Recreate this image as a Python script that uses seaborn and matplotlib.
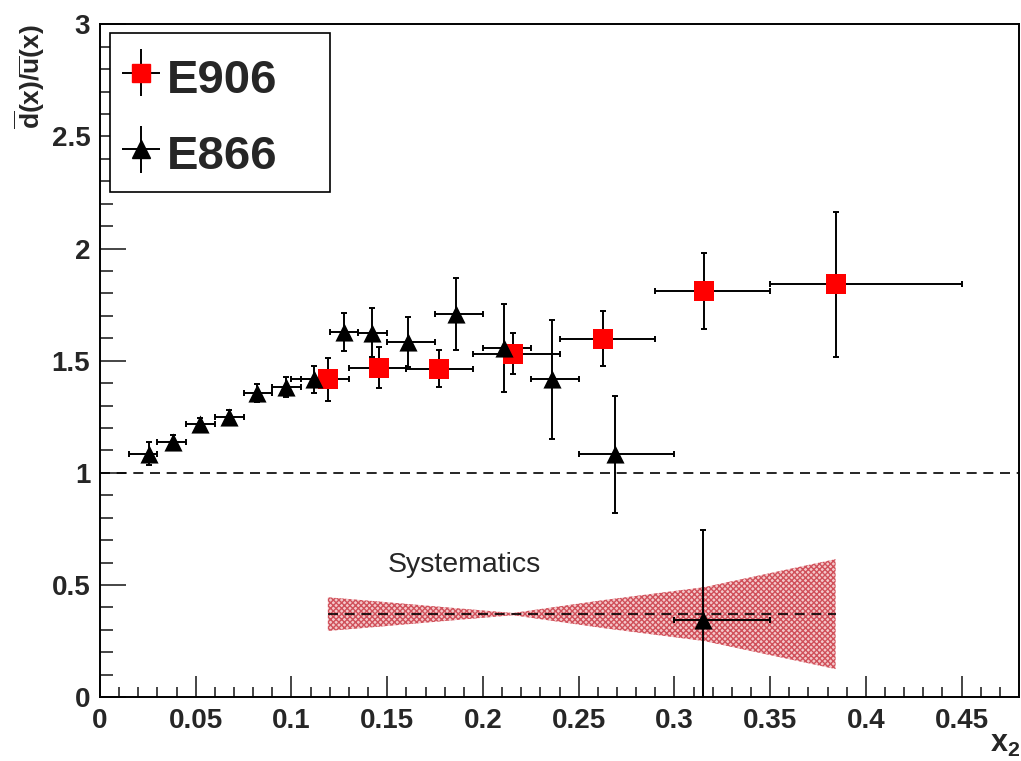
import matplotlib
matplotlib.use("Agg")
import matplotlib.pyplot as plt
from matplotlib.container import ErrorbarContainer
from matplotlib.legend_handler import HandlerErrorbar
from matplotlib.lines import Line2D
from matplotlib.patches import Rectangle
import numpy as np
import pandas as pd
import seaborn as sns


# E866 points (x2, ratio, x-bin edges, y error)
e866_x = [0.0257, 0.0382, 0.052, 0.0673, 0.0821, 0.0972, 0.112, 0.1272, 0.142,
          0.161, 0.186, 0.2108, 0.236, 0.269, 0.3147]
e866_y = [1.086, 1.138, 1.216, 1.249, 1.354, 1.383, 1.417, 1.628, 1.625,
          1.584, 1.708, 1.557, 1.417, 1.082, 0.345]
e866_lo = [0.015, 0.030, 0.045, 0.060, 0.075, 0.090, 0.105, 0.120, 0.135,
           0.150, 0.175, 0.200, 0.225, 0.250, 0.300]
e866_hi = [0.030, 0.045, 0.060, 0.075, 0.090, 0.105, 0.120, 0.135, 0.150,
           0.175, 0.200, 0.225, 0.250, 0.300, 0.350]
e866_err = [0.05, 0.03, 0.03, 0.03, 0.04, 0.045, 0.06, 0.085, 0.11,
            0.11, 0.16, 0.195, 0.265, 0.26, 0.40]

# E906 points
e906_x = [0.119, 0.1459, 0.177, 0.2157, 0.2625, 0.3155, 0.3842]
e906_y = [1.417, 1.469, 1.465, 1.532, 1.599, 1.811, 1.84]
e906_lo = [0.100, 0.130, 0.160, 0.195, 0.240, 0.290, 0.350]
e906_hi = [0.130, 0.160, 0.195, 0.240, 0.290, 0.350, 0.450]
e906_err = [0.095, 0.09, 0.083, 0.09, 0.123, 0.168, 0.325]

# systematic band (half widths at the E906 x positions)
sys_center = 0.37
sys_half = [0.075, 0.056, 0.033, 0.005, 0.062, 0.12, 0.245]


def draw(ax, xs, ys, lo, hi, err, color, marker, size):
    xs = np.array(xs)
    xerr = [xs - np.array(lo), np.array(hi) - xs]
    ax.errorbar(xs, ys, xerr=xerr, yerr=err, fmt="none", ecolor="black",
                elinewidth=1.4, capsize=2.2, capthick=1.4, zorder=3)
    df = pd.DataFrame({"x": xs, "y": ys})
    sns.scatterplot(data=df, x="x", y="y", ax=ax, color=color, marker=marker,
                    s=size, linewidth=0, zorder=4, legend=False)


sns.set_theme(style="ticks")
plt.rcParams["font.family"] = ["Liberation Sans", "DejaVu Sans"]
plt.rcParams["mathtext.fontset"] = "custom"
plt.rcParams["mathtext.bf"] = "Liberation Sans:bold"
plt.rcParams["mathtext.rm"] = "Liberation Sans:bold"
plt.rcParams["hatch.linewidth"] = 1.0

fig = plt.figure(figsize=(10.21, 7.61), dpi=100)
ax = fig.add_axes([0.098, 0.084, 0.900, 0.884])

sx = np.array(e906_x)
sh = np.array(sys_half)
ax.fill_between(sx, sys_center - sh, sys_center + sh, facecolor="#f4c8ca",
                edgecolor="#d0505a", hatch="xxxxxx", linewidth=0, zorder=1)
ax.plot([sx[0], sx[-1]], [sys_center, sys_center], color="black", lw=1.2,
        dashes=(6, 4), zorder=2)
ax.axhline(1.0, color="black", lw=1.2, dashes=(6, 4), zorder=2)

draw(ax, e906_x, e906_y, e906_lo, e906_hi, e906_err, "#ff0000", "s", 200)
draw(ax, e866_x, e866_y, e866_lo, e866_hi, e866_err, "black", "^", 170)

ax.text(0.15, 0.59, "Systematics", fontsize=20.5, va="center", ha="left")

ax.set_xlim(0, 0.48)
ax.set_ylim(0, 3)
ax.set_xticks(np.arange(0, 0.46, 0.05))
ax.set_xticklabels(["0", "0.05", "0.1", "0.15", "0.2", "0.25", "0.3", "0.35",
                    "0.4", "0.45"])
ax.set_xticks(np.arange(0, 0.48, 0.01), minor=True)
ax.set_yticks([0, 0.5, 1, 1.5, 2, 2.5, 3])
ax.set_yticklabels(["0", "0.5", "1", "1.5", "2", "2.5", "3"])
ax.set_yticks(np.arange(0, 3.01, 0.1), minor=True)
ax.tick_params(axis="x", which="major", direction="in", length=15, width=1.2,
               pad=8, labelsize=20)
ax.tick_params(axis="x", which="minor", direction="in", length=7.5, width=1.2)
ax.tick_params(axis="y", which="major", direction="in", length=19, width=1.2,
               pad=7, labelsize=20)
ax.tick_params(axis="y", which="minor", direction="in", length=9.5, width=1.2)
for lab in ax.get_xticklabels() + ax.get_yticklabels():
    lab.set_fontweight("bold")
for sp in ax.spines.values():
    sp.set_linewidth(1.4)
    sp.set_color("black")

ax.set_xlabel("")
fig.text(0.999, 0.003, r"$\mathbf{x_2}$", fontsize=22, ha="right", va="bottom")
ax.set_ylabel(r"$\overline{\mathbf{d}}\mathbf{(x)/}\overline{\mathbf{u}}\mathbf{(x)}$",
              fontsize=19, loc="top", labelpad=3)

# legend box drawn separately, ROOT style
ax.add_patch(Rectangle((0.0109, 0.7509), 0.2394, 0.2364, transform=ax.transAxes,
                       facecolor="white", edgecolor="black", lw=1.2, zorder=5))

# legend proxies: error cross without caps plus marker
nan = [np.nan]
p906 = ax.errorbar(nan, nan, xerr=[1], yerr=[1], fmt="none", ecolor="black",
                   elinewidth=1.4, capsize=0)
p866 = ax.errorbar(nan, nan, xerr=[1], yerr=[1], fmt="none", ecolor="black",
                   elinewidth=1.4, capsize=0)
h906 = (p906, Line2D([], [], marker="s", color="#ff0000", ls="none", ms=13))
h866 = (p866, Line2D([], [], marker="^", color="black", ls="none", ms=13))
leg = ax.legend([h906, h866], ["E906", "E866"], loc="upper left",
                bbox_to_anchor=(0.0109, 0.2, 0.2394, 0.7753), mode="expand",
                prop={"size": 34, "weight": "bold"}, frameon=False,
                handlelength=0.8, handleheight=1.2, borderaxespad=0.0,
                labelspacing=0.56, handletextpad=0.15, borderpad=0.25,
                handler_map={ErrorbarContainer: HandlerErrorbar(xerr_size=0.4,
                                                                yerr_size=0.5)})
leg.set_zorder(6)

fig.savefig("out.png", dpi=100)
